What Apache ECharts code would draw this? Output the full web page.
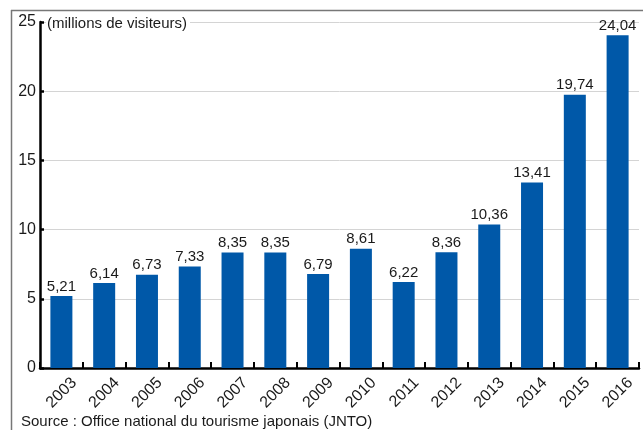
<!DOCTYPE html>
<html><head><meta charset="utf-8">
<script src="https://cdn.jsdelivr.net/npm/echarts@6/dist/echarts.min.js"></script>
<style>html,body{margin:0;padding:0;background:#fff}#c{width:643px;height:430px}</style>
</head><body><div id="c"></div>
<script>
var years = ['2003','2004','2005','2006','2007','2008','2009','2010','2011','2012','2013','2014','2015','2016'];
var visitors = [5.21,6.14,6.73,7.33,8.35,8.35,6.79,8.61,6.22,8.36,10.36,13.41,19.74,24.04];
var yTicks = [0,5,10,15,20,25];
var FONT = "'Liberation Sans', Arial, Helvetica, sans-serif";
var chart = echarts.init(document.getElementById('c'), null, {renderer:'canvas'});
chart.setOption({
  animation:false,
  backgroundColor:'#fff',
  textStyle:{fontFamily:FONT},
  grid:{left:40,right:4,top:22,bottom:62,containLabel:false},
  xAxis:{
    type:'category', data:years, boundaryGap:true,
    axisLine:{lineStyle:{color:'#000',width:2.5}},
    axisTick:{show:true,inside:true,length:6,lineStyle:{color:'#000',width:2}},
    axisLabel:{rotate:45,color:'#1a1a1a',fontSize:16,fontFamily:FONT,margin:25,padding:[0,-18,0,0]}
  },
  yAxis:{
    type:'value', min:yTicks[0], max:yTicks[yTicks.length-1], interval:5,
    axisLine:{show:true,lineStyle:{color:'#000',width:2.5}},
    axisTick:{show:true,inside:true,length:4,lineStyle:{color:'#000',width:2.5}},
    axisLabel:{color:'#1a1a1a',fontSize:16,fontFamily:FONT,margin:4},
    splitLine:{show:true,lineStyle:{color:'#d4d4d4',width:1}}
  },
  series:[{
    type:'bar', data:visitors, barWidth:22,
    itemStyle:{color:'#0058a8'},
    label:{show:true,position:'top',distance:2,color:'#1a1a1a',fontSize:15,fontFamily:FONT,
      formatter:function(p){return p.value.toFixed(2).replace('.',',');}}
  }],
  graphic:[
    {type:'rect',left:46,top:14,shape:{width:144,height:18},style:{fill:'#fff'},z:10},
    {type:'text',left:47,top:16,z:11,style:{text:'(millions de visiteurs)',fill:'#1a1a1a',font:'15px '+FONT}},
    {type:'line',z:20,shape:{x1:11,y1:10.5,x2:643,y2:10.5},style:{stroke:'#777',lineWidth:1.5}},
    {type:'line',z:20,shape:{x1:11.5,y1:10,x2:11.5,y2:430},style:{stroke:'#777',lineWidth:1.5}},
    {type:'text',left:21,top:414,z:11,style:{text:'Source : Office national du tourisme japonais (JNTO)',fill:'#1a1a1a',font:'15px '+FONT}}
  ]
});
</script></body></html>
